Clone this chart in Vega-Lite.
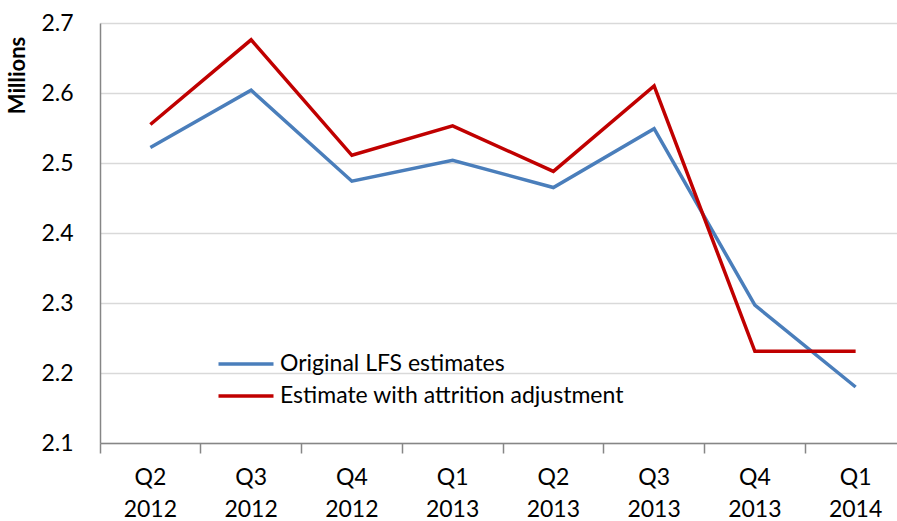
{
  "$schema": "https://vega.github.io/schema/vega-lite/v6.json",
  "width": 806,
  "height": 420,
  "autosize": {"type": "none"},
  "padding": {"left": 100, "top": 23, "right": 0, "bottom": 78},
  "background": "white",
  "config": {
    "view": {"stroke": null},
    "font": "Lato"
  },
  "data": {
    "values": [
      {"q": "Q2|2012", "series": "Original LFS estimates", "value": 2.522},
      {"q": "Q3|2012", "series": "Original LFS estimates", "value": 2.604},
      {"q": "Q4|2012", "series": "Original LFS estimates", "value": 2.474},
      {"q": "Q1|2013", "series": "Original LFS estimates", "value": 2.504},
      {"q": "Q2|2013", "series": "Original LFS estimates", "value": 2.465},
      {"q": "Q3|2013", "series": "Original LFS estimates", "value": 2.549},
      {"q": "Q4|2013", "series": "Original LFS estimates", "value": 2.297},
      {"q": "Q1|2014", "series": "Original LFS estimates", "value": 2.180},
      {"q": "Q2|2012", "series": "Estimate with attrition adjustment", "value": 2.555},
      {"q": "Q3|2012", "series": "Estimate with attrition adjustment", "value": 2.676},
      {"q": "Q4|2012", "series": "Estimate with attrition adjustment", "value": 2.511},
      {"q": "Q1|2013", "series": "Estimate with attrition adjustment", "value": 2.553},
      {"q": "Q2|2013", "series": "Estimate with attrition adjustment", "value": 2.488},
      {"q": "Q3|2013", "series": "Estimate with attrition adjustment", "value": 2.610},
      {"q": "Q4|2013", "series": "Estimate with attrition adjustment", "value": 2.231},
      {"q": "Q1|2014", "series": "Estimate with attrition adjustment", "value": 2.231}
    ]
  },
  "mark": {"type": "line", "strokeWidth": 3.5, "strokeJoin": "miter"},
  "encoding": {
    "x": {
      "field": "q",
      "type": "nominal",
      "sort": null,
      "bandPosition": 0.5,
      "scale": {"type": "band", "paddingInner": 0, "paddingOuter": 0},
      "axis": {
        "title": null,
        "bandPosition": 0,
        "labelAngle": 0,
        "labelExpr": "split(datum.label, '|')",
        "labelFontSize": 23,
        "labelColor": "#000000",
        "labelLineHeight": 32,
        "labelPadding": 13,
        "labelBaseline": "top",
        "domainColor": "#868686",
        "domainWidth": 1.5,
        "tickColor": "#868686",
        "tickWidth": 1.5,
        "tickSize": 10,
        "grid": false
      }
    },
    "y": {
      "field": "value",
      "type": "quantitative",
      "scale": {"domain": [2.1, 2.7], "nice": false, "zero": false},
      "axis": {
        "values": [2.1, 2.2, 2.3, 2.4, 2.5, 2.6, 2.7],
        "format": ".1f",
        "title": "Millions",
        "titleFontSize": 22,
        "titleFontWeight": "bold",
        "titleColor": "#000000",
        "titleX": -83,
        "titleY": 52,
        "titleAngle": -90,
        "titleAlign": "center",
        "titleBaseline": "middle",
        "labelFontSize": 23,
        "labelColor": "#000000",
        "labelPadding": 27,
        "ticks": false,
        "domainColor": "#868686",
        "domainWidth": 1.5,
        "grid": true,
        "gridColor": "#d9d9d9",
        "gridWidth": 1.5
      }
    },
    "color": {
      "field": "series",
      "type": "nominal",
      "scale": {
        "domain": ["Original LFS estimates", "Estimate with attrition adjustment"],
        "range": ["#4a7ebb", "#c00000"]
      },
      "legend": {
        "title": null,
        "orient": "none",
        "legendX": 134,
        "legendY": 329,
        "symbolType": "M-2.75,0H2.75",
        "symbolSize": 400,
        "symbolStrokeWidth": 3.5,
        "symbolFillColor": "transparent",
        "labelFontSize": 23,
        "labelColor": "#000000",
        "labelOffset": 22,
        "rowPadding": 8,
        "labelLimit": 500
      }
    }
  }
}
